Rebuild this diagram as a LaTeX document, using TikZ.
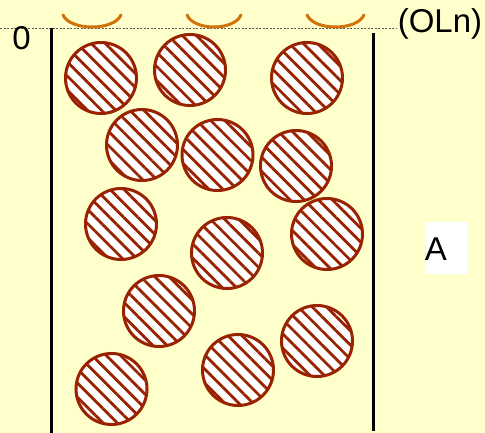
\documentclass[tikz,border=0pt]{standalone}
\usepackage{fontspec}
\setmainfont{Liberation Sans}
\usetikzlibrary{patterns.meta}

\definecolor{paper}{RGB}{255,255,204}
\definecolor{hatchred}{RGB}{153,34,0}
\definecolor{meniscus}{RGB}{210,115,10}
\definecolor{levelgray}{RGB}{90,90,90}

\tikzset{
  ball/.style={circle, draw=hatchred, line width=3pt, minimum size=71pt, inner sep=0pt,
    preaction={fill=white},
    pattern={Lines[angle=-45, distance=10pt, line width=2.8pt]}, pattern color=hatchred},
  wall/.style={line width=3pt, black},
  menisc/.style={line width=3pt, meniscus, line cap=round},
  level/.style={line width=0.8pt, levelgray, dash pattern=on 2pt off 1.5pt},
  label/.style={inner sep=0pt, font=\fontsize{33}{38}\selectfont}
}

\begin{document}
\begin{tikzpicture}[x=1pt, y=-1pt]
  % canvas
  \fill[paper] (0,0) rectangle (485,433);
  \useasboundingbox (0,0) rectangle (485,433);

  % liquid level
  \coordinate (lvlL) at (0,28);
  \coordinate (lvlR) at (397,28);
  \draw[level] (lvlL) -- (lvlR);

  % container walls
  \coordinate (wlTop) at (51.5,28);
  \coordinate (wlBot) at (51.5,433);
  \coordinate (wrTop) at (373,33);
  \coordinate (wrBot) at (373,431);
  \draw[wall] (wlTop) -- (wlBot);
  \draw[wall] (wrTop) -- (wrBot);

  % menisci at the surface
  \foreach \a/\b in {63/121, 187/241, 307/364}{
    \draw[menisc] (\a,15) .. controls (\a+7,31) and (\b-7,31) .. (\b,15);
  }

  % particles
  \node[ball] (p1)  at (101,78)  {};
  \node[ball] (p2)  at (190,70)  {};
  \node[ball] (p3)  at (307,78)  {};
  \node[ball] (p4)  at (142,145) {};
  \node[ball] (p5)  at (217.5,155) {};
  \node[ball] (p6)  at (296,166) {};
  \node[ball] (p7)  at (121,224) {};
  \node[ball] (p8)  at (227,253) {};
  \node[ball] (p9)  at (327,234) {};
  \node[ball] (p10) at (159,311) {};
  \node[ball] (p11) at (317,341) {};
  \node[ball] (p12) at (238,370) {};
  \node[ball] (p13) at (111.5,389) {};

  % labels
  \node[label] (zero) at (21.5,38) {0};
  \node[label] (oln) at (440,24) {(OLn)};
  \node[fill=white, inner sep=0pt, minimum width=41pt, minimum height=52pt] (abox) at (446.5,248) {};
  \node[label] (alabel) at (436,249) {A};
\end{tikzpicture}
\end{document}
